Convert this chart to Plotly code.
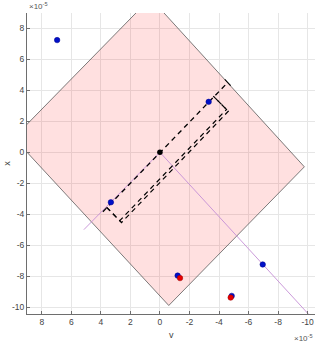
import plotly.graph_objects as go

# data (units of 1e-5)
region_v = [9.9, 0.64, -9.78, -0.6, 9.9]
region_x = [0.93, 9.96, -0.94, -9.9, 0.93]

ray1_v = [0, -10.05]
ray1_x = [0, -10.45]
ray2_v = [0, 5.15]
ray2_x = [0, -5.0]

main_v = [3.86, -4.59]
main_x = [-3.84, 4.51]
tip_v = [-4.79, -4.39]
tip_x = [4.31, 4.71]

rect1_v = [3.61, 2.60, -4.63, -3.61]
rect1_x = [-3.56, -4.54, 2.65, 3.63]
rect2_v = [3.61, 2.72, -4.51, -3.61]
rect2_x = [-3.56, -4.42, 2.77, 3.63]

blue_v = [6.96, -3.30, 3.32, -6.96, -1.2, -4.86]
blue_x = [7.25, 3.26, -3.23, -7.25, -7.97, -9.28]
red_v = [-1.36, -4.79]
red_x = [-8.13, -9.39]
origin_v = [0]
origin_x = [0]

ticks = [8, 6, 4, 2, 0, -2, -4, -6, -8, -10]
tick_text = ["8", "6", "4", "2", "0", "-2", "-4", "-6", "-8", "-10"]

fig = go.Figure()
fig.add_trace(go.Scatter(x=region_v, y=region_x, mode="lines", fill="toself",
                         fillcolor="rgba(255,0,0,0.12)",
                         line=dict(color="#5a5a5a", width=0.8)))
pur = "#c58fd6"
fig.add_trace(go.Scatter(x=ray1_v, y=ray1_x, mode="lines", line=dict(color=pur, width=0.9)))
fig.add_trace(go.Scatter(x=ray2_v, y=ray2_x, mode="lines", line=dict(color=pur, width=0.9)))
dash = "5px,4px"
fig.add_trace(go.Scatter(x=main_v, y=main_x, mode="lines", line=dict(color="black", width=1.3, dash=dash)))
fig.add_trace(go.Scatter(x=tip_v, y=tip_x, mode="lines", line=dict(color="black", width=1.1)))
fig.add_trace(go.Scatter(x=rect1_v, y=rect1_x, mode="lines", line=dict(color="black", width=1.2, dash=dash)))
fig.add_trace(go.Scatter(x=rect2_v, y=rect2_x, mode="lines", line=dict(color="black", width=1.2, dash=dash)))
fig.add_trace(go.Scatter(x=blue_v, y=blue_x, mode="markers",
                         marker=dict(color="#0010c8", size=5.5, line=dict(color="#00008a", width=0.5))))
fig.add_trace(go.Scatter(x=red_v, y=red_x, mode="markers",
                         marker=dict(color="#e80000", size=5.5, line=dict(color="#9a0000", width=0.5))))
fig.add_trace(go.Scatter(x=origin_v, y=origin_x, mode="markers",
                         marker=dict(color="black", size=5.5)))

axis_common = dict(
    tickmode="array", tickvals=ticks, ticktext=tick_text,
    showgrid=True, gridcolor="#e6e6e6", gridwidth=1,
    zeroline=False, showline=True, linecolor="#6e6e6e", linewidth=1,
    ticks="inside", ticklen=3, tickcolor="#6e6e6e",
    tickfont=dict(family="Liberation Sans, Arial", size=8.5, color="#444444"),
    mirror=False, automargin=False,
)
fig.update_xaxes(range=[9, -10.5], **axis_common)
fig.update_yaxes(range=[-10.45, 9], **axis_common)

ann_font = dict(family="Liberation Sans, Arial", size=9, color="#444444")
fig.update_layout(
    width=316, height=342,
    margin=dict(l=27, r=1, t=13, b=28),
    paper_bgcolor="white", plot_bgcolor="white",
    showlegend=False,
    annotations=[
        dict(text="v", x=0.5, y=-0.07, xref="paper", yref="paper", showarrow=False,
             xanchor="center", yanchor="middle", font=ann_font),
        dict(text="x", x=-0.072, y=0.5, xref="paper", yref="paper", showarrow=False,
             xanchor="center", yanchor="middle", textangle=-90, font=ann_font),
        dict(text="×10<sup>-5</sup>", x=0.0, y=1.0, xref="paper", yref="paper", showarrow=False,
             xanchor="left", yanchor="bottom", font=dict(family="Liberation Sans, Arial", size=8, color="#555555")),
        dict(text="×10<sup>-5</sup>", x=1.0, y=-0.055, xref="paper", yref="paper", showarrow=False,
             xanchor="right", yanchor="top", font=dict(family="Liberation Sans, Arial", size=8, color="#555555")),
    ],
)
fig.write_html("out.html", config={"displayModeBar": False},
               post_script="document.body.style.margin='0';document.body.style.overflow='hidden';")
